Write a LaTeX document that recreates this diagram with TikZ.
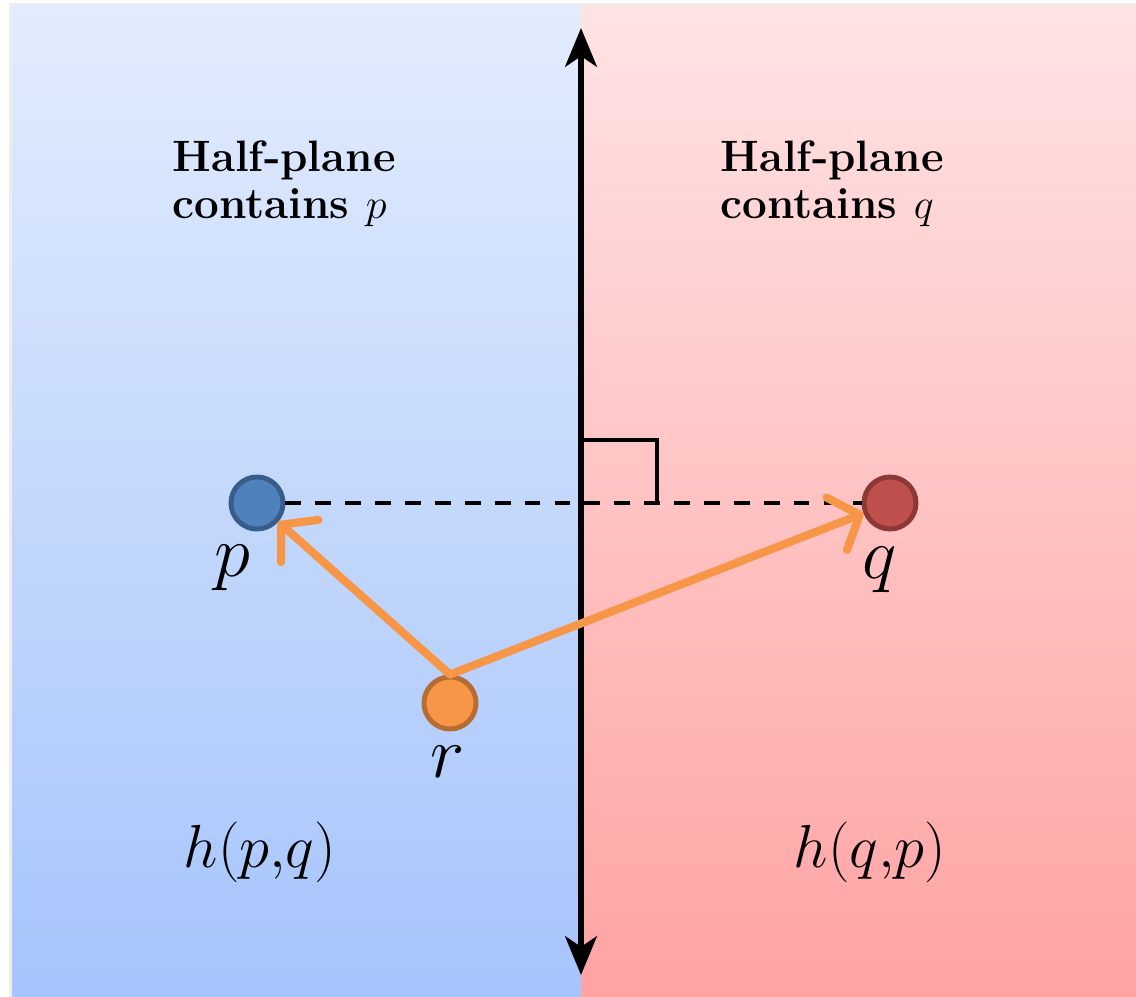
\documentclass[tikz,border=0pt]{standalone}
\usepackage{amsmath, amssymb}
\usepackage{tikz}
\usetikzlibrary{arrows.meta, positioning, calc}
\definecolor{bluetop}{HTML}{E2ECFD}
\definecolor{bluebot}{HTML}{A6C4FC}
\definecolor{redtop}{HTML}{FFE3E4}
\definecolor{redbot}{HTML}{FFA3A3}
\definecolor{pfill}{HTML}{4F81BD}
\definecolor{pline}{HTML}{385D8A}
\definecolor{qfill}{HTML}{C0504D}
\definecolor{qline}{HTML}{8C3836}
\definecolor{rfill}{HTML}{F79646}
\definecolor{rline}{HTML}{B66D31}
\tikzset{
  site/.style={circle, minimum size=0.52cm, inner sep=0pt, line width=1.4pt},
  sitelabel/.style={font=\fontsize{21}{24}\selectfont},
  regionlabel/.style={font=\fontsize{18}{22}\selectfont},
  headlabel/.style={font=\fontsize{12.5}{13.5}\selectfont\bfseries, align=left},
  towards/.style={draw=rfill, line width=2.3pt, line cap=round,
    -{Straight Barb[length=7pt, width=16pt, round]}},
}

\begin{document}
\begin{tikzpicture}[x=0.01cm, y=-0.01cm]
  \useasboundingbox (0,0) rectangle (1136,997);
  % --- half-planes ---
  \fill[black!7] (9,3) rectangle (1136,997);
  \shade[top color=bluetop, bottom color=bluebot] (12,6) rectangle (581,997);
  \shade[top color=redtop, bottom color=redbot] (581,6) rectangle (1136,997);
  \node[headlabel, anchor=north west] (hp) at (160,128) {Half-plane\\contains $p$};
  \node[headlabel, anchor=north west] (hq) at (708,128) {Half-plane\\contains $q$};
  % --- bisector ---
  \coordinate (top) at (581,28);
  \coordinate (bot) at (581,975);
  \draw[line width=1.7pt, {Stealth[length=11pt, width=9pt, inset=3pt]}-{Stealth[length=11pt, width=9pt, inset=3pt]}]
    (top) -- (bot);
  % --- sites ---
  \node[site, fill=pfill, draw=pline] (p) at (257,503) {};
  \node[site, fill=qfill, draw=qline] (q) at (890,503) {};
  \node[site, fill=rfill, draw=rline] (r) at (450,703) {};
  \node[sitelabel] (plab) at (232,568) {$p$};
  \node[sitelabel] (qlab) at (880,570) {$q$};
  \node[sitelabel] (rlab) at (448,762) {$r$};
  \draw[dashed, line width=1.2pt, dash pattern=on 4.5pt off 4pt] (p) -- (q);
  % right angle mark
  \coordinate (ra1) at (581,440);
  \coordinate (ra2) at (657,440);
  \coordinate (ra3) at (657,503);
  \draw[line width=1.4pt] (ra1) -- (ra2) -- (ra3);
  % --- arrows from r ---
  \draw[towards] (r.north) -- (p);
  \draw[towards] (r.north) -- (q);
  % --- region names ---
  \node[regionlabel] (hpq) at (260,852) {$h(p{,}q)$};
  \node[regionlabel] (hqp) at (870,852) {$h(q{,}p)$};
\end{tikzpicture}
\end{document}
